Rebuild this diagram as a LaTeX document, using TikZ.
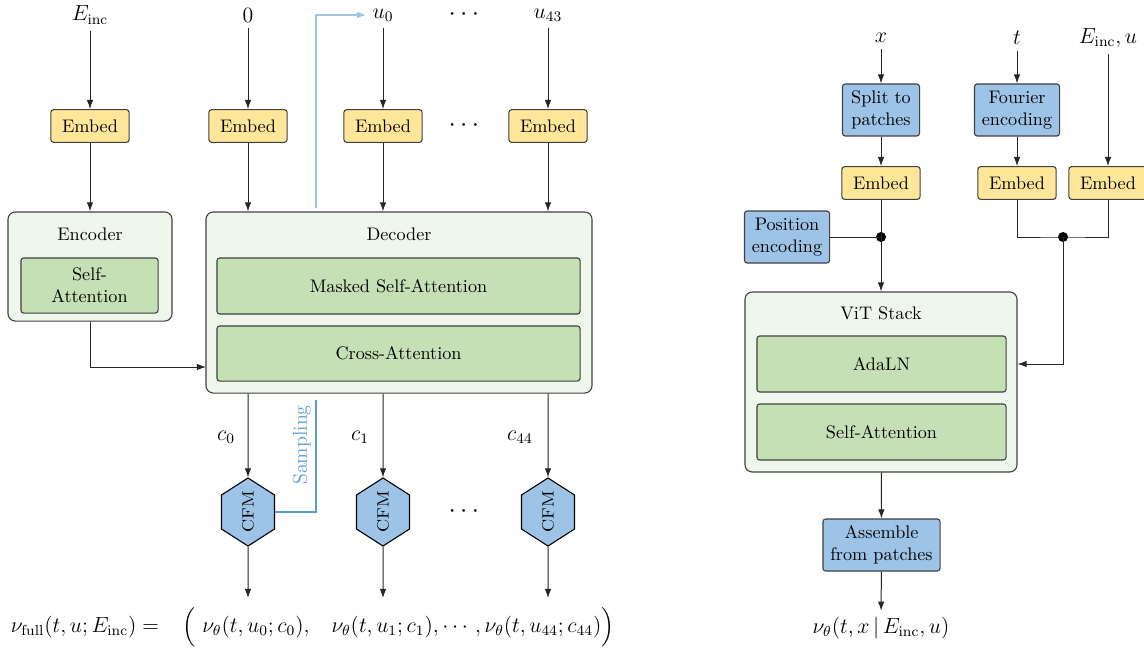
\documentclass[tikz,border=0pt]{standalone}
\usepackage{amsmath}
\usetikzlibrary{arrows.meta,shapes.geometric,calc}
\definecolor{yel}{HTML}{FFE699}
\definecolor{blu}{HTML}{9DC3E6}
\definecolor{grn}{HTML}{C5E0B4}
\definecolor{lgrn}{HTML}{EFF7EC}
\definecolor{sampd}{HTML}{5B9BD5}
\definecolor{sampl}{HTML}{9DC3E6}
\begin{document}
\begin{tikzpicture}[x=0.55pt,y=-0.55pt,
  embed/.style={draw=black!75, fill=yel, rounded corners=1.5pt, minimum width=43pt, minimum height=18pt, inner sep=2pt, line width=0.6pt},
  bluebox/.style={draw=black!75, fill=blu, rounded corners=1.5pt, align=center, inner sep=2pt, line width=0.6pt, minimum height=28.6pt},
  outerbox/.style={draw=black!75, fill=lgrn, rounded corners=4pt, line width=0.6pt},
  innerbox/.style={draw=black!75, fill=grn, rounded corners=1.5pt, line width=0.6pt, align=center},
  arr/.style={-{Latex[length=5pt,width=3.6pt]}, draw=black!85, line width=0.55pt},
  ln/.style={draw=black!85, line width=0.55pt},
  cfmnode/.style={regular polygon, regular polygon sides=6, rotate=90, yscale=0.9, draw=black, fill=blu, minimum size=35.5pt, inner sep=0pt, line width=0.6pt},
  lbl/.style={font=\large},
  dotsnode/.style={inner sep=0pt, font=\Large},
  jdot/.style={circle, fill=black, inner sep=0pt, minimum size=5.5pt}
]
\useasboundingbox (0,0) rectangle (1144,652);

% ---------------- left part ----------------
\node[cfmnode] (cfm0) at (248,512) {CFM};
\node[cfmnode] (cfm1) at (383,512) {CFM};
\node[cfmnode] (cfm2) at (548,512) {CFM};
\node[dotsnode] (cdots) at (466,512) {$\cdots$};

\node[lbl] (lE) at (90,15) {$E_{\mathrm{inc}}$};
\node[lbl] (l0) at (248,15) {$0$};
\node[lbl] (lu0) at (383,15) {$u_0$};
\node[dotsnode] (ldots) at (466,15) {$\cdots$};
\node[lbl] (lu43) at (548,15) {$u_{43}$};

% sampling line (behind decoder)
\coordinate (sbot) at (316,400);
\coordinate (stop) at (316,208);
\draw[draw=sampd, line width=0.6pt] (cfm0.south) -| (sbot);
\draw[draw=sampl, line width=0.6pt, -{Latex[length=5pt,width=3.6pt]}] (stop) |- (lu0.west);
\node[rotate=90, text=sampd, font=\fontsize{11}{13}\selectfont] (samplbl) at (302,445) {Sampling};

\node[embed] (e1) at (90,126) {Embed};
\node[embed] (e2) at (248,126) {Embed};
\node[embed] (e3) at (383,126) {Embed};
\node[dotsnode] (edots) at (466,126) {$\cdots$};
\node[embed] (e4) at (548,126) {Embed};

\node[outerbox, minimum width=90.2pt, minimum height=60pt] (enc) at (90,266.5) {};
\node (enct) at (90,234) {Encoder};
\node[innerbox, minimum width=75.4pt, minimum height=30.3pt] (encsa) at (89.5,285.5) {Self-\\Attention};

\node[outerbox, minimum width=212.3pt, minimum height=99.6pt] (dec) at (399,302.5) {};
\node (dect) at (399,234) {Decoder};
\node[innerbox, minimum width=199.7pt, minimum height=30.8pt] (msa) at (398.5,286) {Masked Self-Attention};
\node[innerbox, minimum width=199.7pt, minimum height=30.3pt] (ca) at (398.5,353.5) {Cross-Attention};

\draw[arr] (lE) -- (e1);
\draw[arr] (l0) -- (e2);
\draw[arr] (lu0) -- (e3);
\draw[arr] (lu43) -- (e4);
\draw[arr] (e1) -- (enc);
\draw[arr] (e2) -- (e2 |- dec.north);
\draw[arr] (e3) -- (e3 |- dec.north);
\draw[arr] (e4) -- (e4 |- dec.north);

\coordinate (encin) at (206,367);
\draw[arr] (enc.south) |- (encin);

\draw[arr] (dec.south -| cfm0) -- (cfm0);
\draw[arr] (dec.south -| cfm1) -- (cfm1);
\draw[arr] (dec.south -| cfm2) -- (cfm2);

\node[lbl] (c0) at (226,437) {$c_0$};
\node[lbl] (c1) at (360,437) {$c_1$};
\node[lbl] (c44) at (520,437) {$c_{44}$};

\coordinate (o0a) at (248,598);
\coordinate (o1a) at (383,598);
\coordinate (o2a) at (548,598);
\draw[arr] (cfm0) -- (o0a);
\draw[arr] (cfm1) -- (o1a);
\draw[arr] (cfm2) -- (o2a);

\node[lbl] (nfull) at (85,627) {$\nu_{\mathrm{full}}(t,u;E_{\mathrm{inc}}) =$};
\node[lbl] (lpar) at (189,627) {$\Big($};
\node[lbl] (o0) at (256,627) {$\nu_\theta(t,u_0;c_0),$};
\node[lbl] (orest) at (473,627) {$\nu_\theta(t,u_1;c_1),\cdots,\nu_\theta(t,u_{44};c_{44})\Big)$};

% ---------------- right part ----------------
\node[lbl] (lx) at (881,38) {$x$};
\node[lbl] (lt) at (1017,38) {$t$};
\node[lbl] (lEu) at (1108,38) {$E_{\mathrm{inc}},u$};

\node[bluebox, minimum width=42.4pt] (split) at (881,110) {Split to\\patches};
\node[bluebox, minimum width=46.8pt] (four) at (1017,110) {Fourier\\encoding};
\node[embed] (embx) at (881,183) {Embed};
\node[embed] (embt) at (1017,183) {Embed};
\node[embed] (embe) at (1108,183) {Embed};
\node[bluebox, minimum width=46.8pt] (pos) at (787,237) {Position\\encoding};

\node[outerbox, minimum width=149.6pt, minimum height=99pt] (vit) at (881,382) {};
\node (vitt) at (881,313) {ViT Stack};
\node[innerbox, minimum width=137pt, minimum height=30.8pt] (adaln) at (881.5,364) {AdaLN};
\node[innerbox, minimum width=137pt, minimum height=30.8pt] (vsa) at (881.5,432) {Self-Attention};

\node[bluebox, minimum width=64.4pt] (asm) at (881.5,545) {Assemble\\from patches};
\node[lbl] (vout) at (881,628) {$\nu_\theta(t,x\,|\,E_{\mathrm{inc}},u)$};

\node[jdot] (d1) at (881,237) {};
\node[jdot] (d2) at (1063,237) {};

\draw[arr] (lx) -- (split);
\draw[arr] (split) -- (embx);
\draw[arr] (embx) -- (vit);
\draw[ln] (pos.east) -- (d1.center);
\draw[arr] (lt) -- (four);
\draw[arr] (four) -- (embt);
\draw[arr] (lEu.south -| embe) -- (embe);
\draw[ln] (embt.south) |- (d2.center) -| (embe.south);
\draw[arr] (d2.center) |- (vit.east |- adaln);
\draw[arr] (vit) -- (asm);
\draw[arr] (asm) -- (vout);
\end{tikzpicture}
\end{document}
